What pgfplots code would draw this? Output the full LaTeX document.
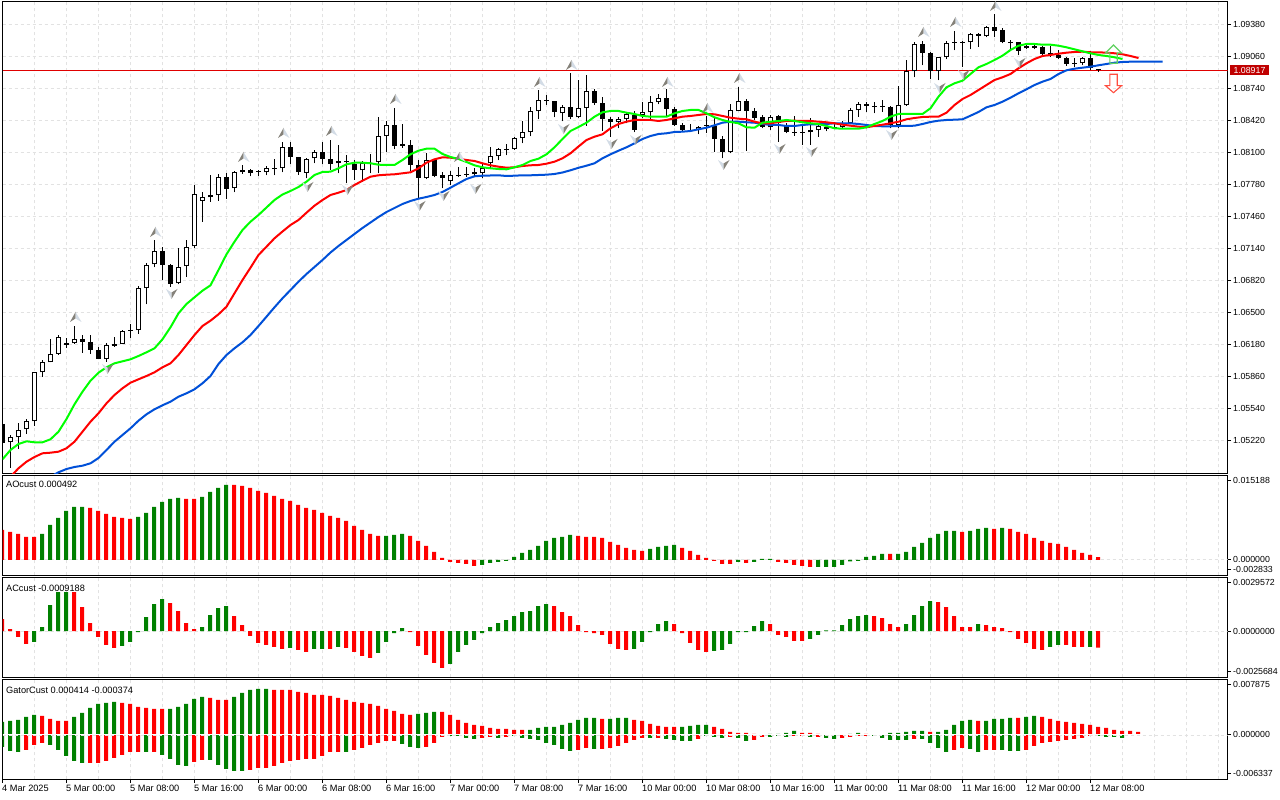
\documentclass[border=0pt]{standalone}
\usepackage{fontspec}
\setmainfont{Liberation Sans}
\usepackage{pgfplots}
\usepackage{pgfplotstable}
\pgfplotsset{compat=1.18}

\definecolor{gridc}{HTML}{E2E2E2}
\definecolor{hist}{HTML}{008000}
\definecolor{bluel}{HTML}{0050D8}
\definecolor{levelr}{HTML}{E00000}
\definecolor{tagr}{HTML}{C00000}
\definecolor{fdark}{HTML}{85827A}
\definecolor{flight}{HTML}{D3DCE6}

% fractal chevrons and the two signal arrows
\pgfdeclareplotmark{fup}{%
  \pgfsetfillcolor{fdark}%
  \pgfpathmoveto{\pgfpoint{1pt}{5pt}}\pgfpathlineto{\pgfpoint{-4.5pt}{-5pt}}\pgfpathlineto{\pgfpoint{1pt}{-1.5pt}}\pgfpathclose\pgfusepath{fill}%
  \pgfsetfillcolor{flight}%
  \pgfpathmoveto{\pgfpoint{1pt}{5pt}}\pgfpathlineto{\pgfpoint{7pt}{-5pt}}\pgfpathlineto{\pgfpoint{1pt}{-1.5pt}}\pgfpathclose\pgfusepath{fill}}
\pgfdeclareplotmark{fdn}{%
  \pgfsetfillcolor{flight}%
  \pgfpathmoveto{\pgfpoint{1pt}{-5pt}}\pgfpathlineto{\pgfpoint{-4.5pt}{5pt}}\pgfpathlineto{\pgfpoint{1pt}{1.5pt}}\pgfpathclose\pgfusepath{fill}%
  \pgfsetfillcolor{fdark}%
  \pgfpathmoveto{\pgfpoint{1pt}{-5pt}}\pgfpathlineto{\pgfpoint{7pt}{5pt}}\pgfpathlineto{\pgfpoint{1pt}{1.5pt}}\pgfpathclose\pgfusepath{fill}}
\pgfdeclareplotmark{bigup}{%
  \pgfsetlinewidth{1.1pt}\pgfsetstrokecolor{green!55!gray!80}%
  \pgfpathmoveto{\pgfpoint{-1pt}{9pt}}\pgfpathlineto{\pgfpoint{7pt}{1pt}}\pgfpathlineto{\pgfpoint{2.7pt}{1pt}}%
  \pgfpathlineto{\pgfpoint{2.7pt}{-9.3pt}}\pgfpathlineto{\pgfpoint{-4.7pt}{-9.3pt}}\pgfpathlineto{\pgfpoint{-4.7pt}{1pt}}%
  \pgfpathlineto{\pgfpoint{-9pt}{1pt}}\pgfpathclose\pgfusepath{stroke}}
\pgfdeclareplotmark{bigdn}{%
  \pgfsetlinewidth{1.1pt}\pgfsetstrokecolor{red!85!orange!75}%
  \pgfpathmoveto{\pgfpoint{-1pt}{-9.2pt}}\pgfpathlineto{\pgfpoint{7pt}{-2.2pt}}\pgfpathlineto{\pgfpoint{2.7pt}{-2.2pt}}%
  \pgfpathlineto{\pgfpoint{2.7pt}{9.2pt}}\pgfpathlineto{\pgfpoint{-4.7pt}{9.2pt}}\pgfpathlineto{\pgfpoint{-4.7pt}{-2.2pt}}%
  \pgfpathlineto{\pgfpoint{-9pt}{-2.2pt}}\pgfpathclose\pgfusepath{stroke}}

% candles: bar, open, high, low, close
\pgfplotstableread{
i o h l c
0 1.05380 1.05380 1.05193 1.05193
1 1.05197 1.05270 1.04943 1.05247
2 1.05247 1.05390 1.05130 1.05317
3 1.05327 1.05430 1.05280 1.05407
4 1.05407 1.05900 1.05360 1.05897
5 1.05897 1.06020 1.05853 1.05997
6 1.05997 1.06230 1.05997 1.06077
7 1.06083 1.06270 1.06070 1.06247
8 1.06187 1.06240 1.06140 1.06167
9 1.06187 1.06360 1.06180 1.06227
10 1.06227 1.06270 1.06093 1.06197
11 1.06197 1.06270 1.06080 1.06117
12 1.06117 1.06150 1.06027 1.06027
13 1.06027 1.06190 1.06003 1.06167
14 1.06177 1.06250 1.06150 1.06160
15 1.06177 1.06320 1.06177 1.06307
16 1.06320 1.06380 1.06240 1.06310
17 1.06317 1.06763 1.06280 1.06737
18 1.06737 1.06990 1.06577 1.06967
19 1.06977 1.07220 1.06947 1.07107
20 1.07107 1.07150 1.06823 1.06967
21 1.06967 1.06980 1.06753 1.06777
22 1.06787 1.07140 1.06777 1.06947
23 1.06957 1.07220 1.06853 1.07147
24 1.07157 1.07770 1.07137 1.07680
25 1.07613 1.07700 1.07403 1.07647
26 1.07647 1.07870 1.07603 1.07667
27 1.07667 1.07880 1.07613 1.07847
28 1.07847 1.07890 1.07633 1.07727
29 1.07737 1.07910 1.07697 1.07900
30 1.07897 1.07970 1.07880 1.07917
31 1.07917 1.07927 1.07857 1.07887
32 1.07905 1.07920 1.07860 1.07895
33 1.07897 1.07960 1.07867 1.07937
34 1.07940 1.08030 1.07867 1.07930
35 1.07937 1.08197 1.07897 1.08147
36 1.08147 1.08197 1.07977 1.08047
37 1.08047 1.08050 1.07870 1.07897
38 1.07890 1.08043 1.07837 1.08027
39 1.08037 1.08117 1.07987 1.08097
40 1.08097 1.08200 1.07977 1.08027
41 1.08027 1.08220 1.07917 1.07977
42 1.07987 1.08170 1.07887 1.08007
43 1.08007 1.08070 1.07787 1.07997
44 1.07977 1.08020 1.07820 1.07917
45 1.07917 1.08010 1.07803 1.07987
46 1.07992 1.08080 1.07887 1.07982
47 1.07997 1.08447 1.07887 1.08257
48 1.08257 1.08407 1.08100 1.08367
49 1.08367 1.08540 1.08127 1.08160
50 1.08177 1.08380 1.08143 1.08160
51 1.08167 1.08220 1.07907 1.07967
52 1.07967 1.08020 1.07637 1.07837
53 1.07837 1.08090 1.07827 1.08017
54 1.08017 1.08027 1.07847 1.07857
55 1.07867 1.07897 1.07737 1.07837
56 1.07807 1.07907 1.07767 1.07867
57 1.07872 1.07953 1.07847 1.07862
58 1.07877 1.07947 1.07853 1.07867
59 1.07877 1.07937 1.07847 1.07897
60 1.07887 1.07987 1.07837 1.07937
61 1.07987 1.08147 1.07937 1.08057
62 1.08057 1.08137 1.08017 1.08127
63 1.08132 1.08177 1.08067 1.08122
64 1.08127 1.08247 1.08120 1.08237
65 1.08237 1.08407 1.08187 1.08297
66 1.08297 1.08547 1.08257 1.08507
67 1.08507 1.08717 1.08427 1.08617
68 1.08617 1.08670 1.08570 1.08607
69 1.08607 1.08610 1.08447 1.08497
70 1.08487 1.08567 1.08407 1.08547
71 1.08547 1.08887 1.08427 1.08447
72 1.08447 1.08817 1.08440 1.08537
73 1.08537 1.08867 1.08360 1.08707
74 1.08707 1.08727 1.08570 1.08587
75 1.08587 1.08647 1.08313 1.08427
76 1.08427 1.08447 1.08253 1.08397
77 1.08397 1.08447 1.08337 1.08427
78 1.08427 1.08497 1.08387 1.08477
79 1.08467 1.08507 1.08297 1.08317
80 1.08467 1.08597 1.08437 1.08497
81 1.08497 1.08657 1.08427 1.08597
82 1.08597 1.08677 1.08577 1.08637
83 1.08637 1.08727 1.08447 1.08527
84 1.08527 1.08547 1.08357 1.08367
85 1.08367 1.08387 1.08297 1.08317
86 1.08320 1.08377 1.08303 1.08310
87 1.08317 1.08357 1.08277 1.08347
88 1.08367 1.08460 1.08290 1.08357
89 1.08357 1.08437 1.08103 1.08227
90 1.08227 1.08257 1.08037 1.08097
91 1.08097 1.08580 1.08087 1.08517
92 1.08507 1.08747 1.08507 1.08607
93 1.08607 1.08627 1.08113 1.08507
94 1.08507 1.08537 1.08420 1.08437
95 1.08447 1.08467 1.08337 1.08347
96 1.08347 1.08467 1.08320 1.08447
97 1.08457 1.08467 1.08203 1.08387
98 1.08357 1.08387 1.08287 1.08297
99 1.08302 1.08460 1.08260 1.08292
100 1.08302 1.08370 1.08170 1.08292
101 1.08297 1.08437 1.08170 1.08317
102 1.08317 1.08370 1.08253 1.08357
103 1.08327 1.08387 1.08307 1.08347
104 1.08352 1.08403 1.08327 1.08342
105 1.08347 1.08413 1.08337 1.08387
106 1.08387 1.08537 1.08377 1.08517
107 1.08517 1.08597 1.08453 1.08577
108 1.08577 1.08603 1.08503 1.08560
109 1.08560 1.08603 1.08487 1.08547
110 1.08555 1.08620 1.08503 1.08545
111 1.08550 1.08560 1.08337 1.08370
112 1.08370 1.08760 1.08337 1.08567
113 1.08567 1.09020 1.08560 1.08907
114 1.08907 1.09197 1.08847 1.09177
115 1.09177 1.09207 1.08967 1.09087
116 1.09087 1.09097 1.08827 1.08907
117 1.08907 1.09053 1.08817 1.09047
118 1.09047 1.09207 1.09027 1.09187
119 1.09198 1.09307 1.09117 1.09188
120 1.09202 1.09207 1.08953 1.09192
121 1.09197 1.09287 1.09127 1.09277
122 1.09277 1.09287 1.09153 1.09257
123 1.09257 1.09357 1.09247 1.09347
124 1.09347 1.09477 1.09247 1.09307
125 1.09317 1.09337 1.09187 1.09197
126 1.09202 1.09217 1.09120 1.09192
127 1.09197 1.09197 1.09067 1.09107
128 1.09137 1.09177 1.09127 1.09157
129 1.09157 1.09177 1.09127 1.09137
130 1.09147 1.09157 1.09053 1.09077
131 1.09087 1.09157 1.09053 1.09067
132 1.09067 1.09117 1.09027 1.09037
133 1.09037 1.09047 1.08960 1.08977
134 1.08987 1.09037 1.08953 1.08977
135 1.08987 1.09047 1.08967 1.09037
136 1.09037 1.09107 1.08917 1.08937
137 1.08927 1.08927 1.08903 1.08917
}\candles

% moving averages: green, red, blue
\pgfplotstableread{
i g r b
0 1.05027 1.04820 nan
1 1.05120 1.04853 nan
2 1.05180 1.04937 nan
3 1.05207 1.05003 nan
4 1.05197 1.05050 nan
5 1.05197 1.05087 nan
6 1.05227 1.05093 1.04853
7 1.05303 1.05103 1.04897
8 1.05430 1.05137 1.04930
9 1.05577 1.05203 1.04950
10 1.05703 1.05303 1.04963
11 1.05813 1.05403 1.04987
12 1.05893 1.05487 1.05040
13 1.05947 1.05587 1.05120
14 1.05987 1.05670 1.05203
15 1.06007 1.05737 1.05270
16 1.06027 1.05793 1.05337
17 1.06060 1.05827 1.05413
18 1.06097 1.05860 1.05477
19 1.06137 1.05897 1.05527
20 1.06227 1.05947 1.05567
21 1.06347 1.05987 1.05603
22 1.06487 1.06070 1.05653
23 1.06580 1.06170 1.05687
24 1.06647 1.06270 1.05727
25 1.06713 1.06360 1.05787
26 1.06767 1.06413 1.05860
27 1.06920 1.06477 1.05980
28 1.07077 1.06553 1.06070
29 1.07203 1.06687 1.06137
30 1.07320 1.06820 1.06197
31 1.07403 1.06943 1.06270
32 1.07470 1.07070 1.06360
33 1.07545 1.07153 1.06453
34 1.07620 1.07237 1.06547
35 1.07675 1.07305 1.06637
36 1.07710 1.07370 1.06720
37 1.07750 1.07420 1.06803
38 1.07803 1.07493 1.06880
39 1.07870 1.07563 1.06950
40 1.07900 1.07620 1.07020
41 1.07903 1.07670 1.07095
42 1.07937 1.07693 1.07160
43 1.07977 1.07720 1.07220
44 1.07993 1.07770 1.07280
45 1.07993 1.07813 1.07340
46 1.07987 1.07853 1.07395
47 1.07973 1.07867 1.07450
48 1.07970 1.07873 1.07500
49 1.07970 1.07877 1.07540
50 1.08020 1.07887 1.07580
51 1.08077 1.07897 1.07610
52 1.08113 1.07937 1.07633
53 1.08133 1.07993 1.07650
54 1.08133 1.08027 1.07670
55 1.08080 1.08047 1.07700
56 1.08050 1.08043 1.07743
57 1.08030 1.08033 1.07787
58 1.08000 1.08020 1.07830
59 1.07967 1.08010 1.07857
60 1.07947 1.07987 1.07863
61 1.07937 1.07967 1.07865
62 1.07930 1.07953 1.07867
63 1.07927 1.07943 1.07860
64 1.07947 1.07947 1.07863
65 1.07970 1.07960 1.07867
66 1.08010 1.07967 1.07867
67 1.08033 1.07970 1.07870
68 1.08077 1.07983 1.07873
69 1.08147 1.08003 1.07880
70 1.08230 1.08037 1.07895
71 1.08310 1.08087 1.07917
72 1.08350 1.08155 1.07942
73 1.08393 1.08220 1.07963
74 1.08453 1.08253 1.07987
75 1.08497 1.08277 1.08037
76 1.08510 1.08337 1.08077
77 1.08510 1.08380 1.08113
78 1.08493 1.08403 1.08147
79 1.08480 1.08420 1.08187
80 1.08460 1.08420 1.08230
81 1.08453 1.08420 1.08260
82 1.08453 1.08410 1.08280
83 1.08453 1.08420 1.08287
84 1.08487 1.08437 1.08300
85 1.08510 1.08453 1.08303
86 1.08520 1.08460 1.08310
87 1.08520 1.08470 1.08327
88 1.08487 1.08480 1.08343
89 1.08447 1.08477 1.08367
90 1.08420 1.08460 1.08393
91 1.08400 1.08443 1.08403
92 1.08387 1.08433 1.08403
93 1.08347 1.08427 1.08397
94 1.08343 1.08403 1.08393
95 1.08393 1.08387 1.08380
96 1.08403 1.08387 1.08370
97 1.08410 1.08400 1.08370
98 1.08420 1.08410 1.08360
99 1.08410 1.08413 1.08360
100 1.08397 1.08410 1.08370
101 1.08387 1.08410 1.08377
102 1.08380 1.08403 1.08377
103 1.08360 1.08397 1.08380
104 1.08337 1.08387 1.08387
105 1.08333 1.08373 1.08387
106 1.08333 1.08363 1.08387
107 1.08333 1.08353 1.08380
108 1.08347 1.08347 1.08370
109 1.08380 1.08360 1.08360
110 1.08410 1.08373 1.08357
111 1.08453 1.08387 1.08357
112 1.08480 1.08403 1.08360
113 1.08480 1.08427 1.08360
114 1.08480 1.08440 1.08363
115 1.08480 1.08450 1.08380
116 1.08537 1.08453 1.08400
117 1.08653 1.08453 1.08413
118 1.08747 1.08493 1.08420
119 1.08787 1.08570 1.08423
120 1.08813 1.08630 1.08427
121 1.08880 1.08670 1.08463
122 1.08947 1.08720 1.08500
123 1.08980 1.08770 1.08547
124 1.09020 1.08820 1.08570
125 1.09063 1.08847 1.08603
126 1.09120 1.08880 1.08643
127 1.09163 1.08937 1.08687
128 1.09180 1.08987 1.08727
129 1.09180 1.09030 1.08770
130 1.09173 1.09060 1.08803
131 1.09173 1.09070 1.08830
132 1.09163 1.09083 1.08880
133 1.09147 1.09093 1.08917
134 1.09127 1.09100 1.08933
135 1.09107 1.09103 1.08943
136 1.09087 1.09097 1.08953
137 1.09070 1.09097 1.08967
138 1.09060 1.09093 1.08980
139 1.09047 1.09087 1.08993
140 1.09030 1.09077 1.09000
141 nan 1.09060 1.09003
142 nan 1.09040 1.09003
143 nan nan 1.09003
144 nan nan 1.09003
145 nan nan 1.09003
}\averages

\pgfplotstableread{
i y
9 1.06450
19 1.07300
30 1.08050
35 1.08290
41 1.08310
49 1.08630
57 1.08050
67 1.08800
71 1.08970
83 1.08800
88 1.08540
92 1.08840
115 1.09300
119 1.09400
124 1.09560
}\fractup

\pgfplotstableread{
i y
1 1.04870
13 1.05930
21 1.06680
38 1.07750
43 1.07720
52 1.07560
55 1.07660
59 1.07730
70 1.08330
76 1.08180
79 1.08220
90 1.07970
97 1.08130
101 1.08100
111 1.08270
117 1.08740
120 1.08870
127 1.08990
}\fractdown

% AO histogram, k=1 green, k=0 red
\pgfplotstableread{
i v k
0 0.00540 0
1 0.00504 0
2 0.00468 0
3 0.00414 0
4 0.00414 0
5 0.00468 1
6 0.00630 1
7 0.00756 1
8 0.00882 1
9 0.00954 1
10 0.00954 1
11 0.00936 0
12 0.00882 0
13 0.00828 0
14 0.00774 0
15 0.00756 0
16 0.00738 0
17 0.00774 1
18 0.00846 1
19 0.00954 1
20 0.01044 1
21 0.01098 1
22 0.01116 1
23 0.01098 0
24 0.01098 0
25 0.01134 1
26 0.01224 1
27 0.01296 1
28 0.01350 1
29 0.01350 0
30 0.01332 0
31 0.01296 0
32 0.01242 0
33 0.01206 0
34 0.01152 0
35 0.01098 0
36 0.01062 0
37 0.00990 0
38 0.00936 0
39 0.00900 0
40 0.00846 0
41 0.00792 0
42 0.00756 0
43 0.00702 0
44 0.00612 0
45 0.00540 0
46 0.00468 0
47 0.00432 0
48 0.00432 1
49 0.00450 1
50 0.00468 1
51 0.00432 0
52 0.00342 0
53 0.00252 0
54 0.00144 0
55 0.00036 0
56 -0.00036 0
57 -0.00054 0
58 -0.00072 0
59 -0.00108 0
60 -0.00090 1
61 -0.00054 1
62 -0.00036 1
63 -0.00018 1
64 0.00054 1
65 0.00126 1
66 0.00180 1
67 0.00252 1
68 0.00342 1
69 0.00396 1
70 0.00414 1
71 0.00450 1
72 0.00432 0
73 0.00414 0
74 0.00414 0
75 0.00396 0
76 0.00324 0
77 0.00270 0
78 0.00216 0
79 0.00180 0
80 0.00162 0
81 0.00198 1
82 0.00234 1
83 0.00252 1
84 0.00270 1
85 0.00216 0
86 0.00162 0
87 0.00090 0
88 0.00036 0
89 -0.00018 0
90 -0.00072 0
91 -0.00072 0
92 -0.00036 1
93 -0.00054 0
94 -0.00036 1
95 0.00018 1
96 0.00018 1
97 -0.00036 0
98 -0.00054 0
99 -0.00090 0
100 -0.00108 0
101 -0.00126 0
102 -0.00126 1
103 -0.00126 1
104 -0.00126 1
105 -0.00090 1
106 -0.00027 1
107 -0.00018 1
108 0.00054 1
109 0.00072 1
110 0.00108 1
111 0.00108 0
112 0.00108 1
113 0.00144 1
114 0.00234 1
115 0.00306 1
116 0.00396 1
117 0.00468 1
118 0.00522 1
119 0.00522 1
120 0.00504 0
121 0.00522 1
122 0.00558 1
123 0.00576 1
124 0.00558 0
125 0.00576 1
126 0.00558 0
127 0.00504 0
128 0.00468 0
129 0.00396 0
130 0.00342 0
131 0.00306 0
132 0.00288 0
133 0.00234 0
134 0.00180 0
135 0.00126 0
136 0.00090 0
137 0.000492 0
}\aotab

% AC histogram
\pgfplotstableread{
i v k
0 0.00066 0
1 0.00011 0
2 -0.00033 0
3 -0.000715 0
4 -0.000605 1
5 0.00022 1
6 0.00143 1
7 0.002145 1
8 0.002145 1
9 0.002145 0
10 0.00132 0
11 0.00044 0
12 -0.00033 0
13 -0.00077 0
14 -0.000935 0
15 -0.000825 1
16 -0.000605 1
17 -0.000055 1
18 0.00077 1
19 0.001485 1
20 0.00176 1
21 0.00154 0
22 0.0011 0
23 0.00044 0
24 0.00011 0
25 0.00022 1
26 0.00088 1
27 0.001265 1
28 0.001375 1
29 0.000825 0
30 0.00033 0
31 -0.000275 0
32 -0.00066 0
33 -0.00077 0
34 -0.00088 0
35 -0.00099 0
36 -0.000935 1
37 -0.001045 0
38 -0.001155 0
39 -0.00099 1
40 -0.00099 1
41 -0.00099 0
42 -0.00088 1
43 -0.000935 0
44 -0.001155 0
45 -0.001375 0
46 -0.001485 0
47 -0.00121 1
48 -0.000605 1
49 -0.00011 1
50 0.000165 1
51 -0.000055 0
52 -0.000825 0
53 -0.00132 0
54 -0.00176 0
55 -0.002035 0
56 -0.001815 1
57 -0.001155 1
58 -0.00077 1
59 -0.000495 1
60 -0.00011 1
61 0.00022 1
62 0.00044 1
63 0.000605 1
64 0.000825 1
65 0.001045 1
66 0.0011 1
67 0.001375 1
68 0.001485 1
69 0.001375 0
70 0.001045 0
71 0.000825 0
72 0.00033 0
73 -0.000055 0
74 -0.00011 0
75 -0.00022 0
76 -0.000715 0
77 -0.00099 0
78 -0.001045 0
79 -0.00099 1
80 -0.000605 1
81 -0.000055 1
82 0.000385 1
83 0.00055 1
84 0.000385 0
85 -0.00011 0
86 -0.00066 0
87 -0.001045 0
88 -0.001155 0
89 -0.0011 1
90 -0.001045 1
91 -0.000715 1
92 -0.000055 1
93 -0.000055 1
94 0.000275 1
95 0.00055 1
96 0.000385 0
97 -0.00022 0
98 -0.00033 0
99 -0.00055 0
100 -0.00055 0
101 -0.00044 1
102 -0.00022 1
103 0.00003 1
104 0.00004 1
105 0.00033 1
106 0.00066 1
107 0.000825 1
108 0.00088 1
109 0.000825 0
110 0.000715 0
111 0.000385 0
112 0.00022 0
113 0.000385 1
114 0.00088 1
115 0.001375 1
116 0.00165 1
117 0.001595 0
118 0.00132 0
119 0.000825 0
120 0.00022 0
121 0.00022 0
122 0.000385 1
123 0.00033 0
124 0.00022 0
125 0.000165 0
126 -0.000055 0
127 -0.00044 0
128 -0.00066 0
129 -0.00099 0
130 -0.001045 0
131 -0.00088 1
132 -0.00077 1
133 -0.00077 0
134 -0.00088 0
135 -0.00088 0
136 -0.00088 1
137 -0.0009188 0
}\actab

% Gator: upper and lower bars with their colours
\pgfplotstableread{
i up ku lo kl
0 0.001846 1 -0.001704 1
1 0.001988 1 -0.002272 1
2 0.00213 1 -0.002414 1
3 0.002556 1 -0.00213 0
4 0.00284 1 -0.00142 0
5 0.002698 0 -0.001136 0
6 0.002272 0 -0.00142 1
7 0.001988 0 -0.00213 1
8 0.001988 0 -0.002982 1
9 0.002556 1 -0.003692 1
10 0.003124 1 -0.003976 1
11 0.003834 1 -0.003976 0
12 0.004402 1 -0.003976 0
13 0.004544 1 -0.003692 0
14 0.004686 1 -0.003266 0
15 0.004544 0 -0.00284 0
16 0.004402 0 -0.002414 0
17 0.003976 0 -0.002414 0
18 0.003834 0 -0.002414 1
19 0.003692 0 -0.002414 0
20 0.003692 0 -0.00284 1
21 0.003692 1 -0.003408 1
22 0.003976 1 -0.00426 1
23 0.004402 1 -0.004402 1
24 0.005112 1 -0.003834 0
25 0.005396 1 -0.00355 0
26 0.005254 0 -0.00355 1
27 0.00497 0 -0.00426 1
28 0.00497 0 -0.004828 1
29 0.005396 1 -0.005112 1
30 0.005964 1 -0.005112 1
31 0.00639 1 -0.00497 0
32 0.006532 1 -0.004686 0
33 0.006532 1 -0.004686 0
34 0.00639 0 -0.004402 0
35 0.00639 0 -0.003976 0
36 0.00639 0 -0.003692 0
37 0.006106 0 -0.00355 0
38 0.005964 0 -0.003408 0
39 0.00568 0 -0.003408 0
40 0.00568 0 -0.002982 0
41 0.005538 0 -0.002414 0
42 0.005254 0 -0.002414 0
43 0.00497 0 -0.002414 1
44 0.004686 0 -0.00213 0
45 0.004544 0 -0.001846 0
46 0.004402 0 -0.00142 0
47 0.004118 0 -0.001136 0
48 0.003692 0 -0.000852 0
49 0.003408 0 -0.000852 0
50 0.002982 0 -0.001278 1
51 0.00284 0 -0.001704 1
52 0.002982 1 -0.001846 1
53 0.003124 1 -0.001704 0
54 0.003266 1 -0.001136 0
55 0.003266 0 -0.000284 0
56 0.00284 0 -0.000142 1
57 0.00213 0 -0.000142 1
58 0.001704 0 -0.000426 1
59 0.00142 0 -0.000568 1
60 0.001278 0 -0.000426 0
61 0.000994 0 -0.000284 0
62 0.000852 0 -0.000426 1
63 0.000852 0 -0.000284 0
64 0.00071 0 -0.000142 1
65 0.00071 0 -0.000426 1
66 0.00071 1 -0.000568 1
67 0.000994 1 -0.00071 1
68 0.001136 1 -0.001136 1
69 0.001136 1 -0.00142 1
70 0.00142 1 -0.001988 1
71 0.001704 1 -0.002272 1
72 0.00213 1 -0.00213 0
73 0.002414 1 -0.001846 0
74 0.002414 1 -0.001988 1
75 0.002272 0 -0.001988 0
76 0.002272 1 -0.001846 0
77 0.002414 1 -0.001562 0
78 0.002414 1 -0.001136 0
79 0.00213 0 -0.00071 0
80 0.001988 0 -0.000426 0
81 0.001562 0 -0.000426 1
82 0.001278 0 -0.000426 0
83 0.001136 0 -0.000568 1
84 0.001136 0 -0.00071 1
85 0.001136 1 -0.000852 1
86 0.001278 1 -0.000852 1
87 0.00142 1 -0.000568 0
88 0.00142 1 -0.000142 1
89 0.001136 0 -0.000284 1
90 0.000852 0 -0.000426 1
91 0.000426 0 -0.000284 0
92 0.000284 0 -0.000426 1
93 0.000284 0 -0.000852 1
94 0.000142 0 -0.00071 0
95 0.00007 0 -0.000284 0
96 0.000142 1 -0.000284 1
97 0.000142 1 -0.000142 1
98 0.000284 1 -0.000284 1
99 0.000568 1 -0.000142 0
100 0.000284 0 -0.000142 0
101 0.000284 0 -0.000284 1
102 0.000142 0 -0.000284 0
103 0.00007 1 -0.000426 1
104 0.00007 1 -0.000568 1
105 0.00007 0 -0.000426 0
106 0.000142 1 -0.000284 0
107 0.000284 1 -0.000142 0
108 0.000142 0 -0.000142 0
109 0.00007 1 -0.000142 1
110 0.00007 1 -0.000426 1
111 0.000284 1 -0.00071 1
112 0.000284 1 -0.00071 1
113 0.000426 1 -0.00071 1
114 0.000568 1 -0.000568 0
115 0.000568 1 -0.000568 1
116 0.000426 0 -0.001136 1
117 0.000426 1 -0.001846 1
118 0.00071 1 -0.002414 1
119 0.00142 1 -0.00213 0
120 0.001988 1 -0.001846 0
121 0.00213 1 -0.001988 1
122 0.001988 0 -0.002414 1
123 0.001988 1 -0.00213 0
124 0.002272 1 -0.00213 0
125 0.002272 1 -0.00213 1
126 0.002414 1 -0.002272 1
127 0.002414 0 -0.002272 1
128 0.002556 1 -0.00213 0
129 0.002698 1 -0.001562 0
130 0.002556 0 -0.001136 0
131 0.002272 0 -0.000994 0
132 0.001988 0 -0.000852 0
133 0.001846 0 -0.00071 0
134 0.001704 0 -0.000568 0
135 0.001562 0 -0.000426 0
136 0.00142 0 -0.000142 0
137 0.001136 0 -0.000142 1
138 0.000994 0 -0.000284 1
139 0.00071 0 -0.000284 1
140 0.000568 0 -0.000426 1
141 0.000568 0 nan 0
142 0.000414 0 nan 0
}\gator

\pgfplotsset{
  panel/.style={
    scale only axis, width=1225pt,
    xmin=0, xmax=153.125,
    scaled y ticks=false, scaled x ticks=false,
    axis line style={line width=1pt},
    tick align=outside, major tick length=3.5pt, minor tick length=0pt,
    tick style={black, line width=0.9pt},
    xtick={0,8,...,136},
    minor xtick={4,12,...,132,140,144,148,152},
    xmajorgrids, xminorgrids,
    grid style={gridc, line width=0.8pt, dash pattern=on 3pt off 3pt},
    minor grid style={gridc, line width=0.8pt, dash pattern=on 3pt off 3pt},
    xtick pos=bottom, ytick pos=right, yticklabel pos=right,
    xticklabels={}, xtick style={draw=none},
    yticklabel style={font=\fontsize{8.8}{10}\selectfont, anchor=west, inner sep=0pt, xshift=2pt},
  },
  bar/.style={ybar, bar width=4pt, bar shift=-0.5pt, draw=none, fill=#1},
}
\newcommand{\ind}[2]{\node[anchor=west, inner sep=0pt, font=\fontsize{9.2}{10}\selectfont] at (6pt,#1pt) {#2};}

\begin{document}
\begin{tikzpicture}[x=1pt,y=1pt]
\path[use as bounding box, fill=white] (0,0) rectangle (1280,800);

% price panel
\begin{axis}[panel, at={(2.5pt,326.5pt)}, anchor=south west, height=472pt,
  ymin=1.04885, ymax=1.09605, ymajorgrids,
  ytick={1.0522,1.0554,1.0586,1.0618,1.065,1.0682,1.0714,1.0746,1.0778,1.081,1.0842,1.0874,1.0906,1.0938},
  yticklabels={1.05220,1.05540,1.05860,1.06180,1.06500,1.06820,1.07140,1.07460,1.07780,1.08100,1.08420,1.08740,1.09060,1.09380},
]
\addplot[levelr, line width=1pt] coordinates {(0,1.08917) (153.125,1.08917)};
% wicks and bodies
\addplot[black, line width=1pt, quiver={u=0,v=\thisrow{h}-\thisrow{l}}] table[x=i,y=l] {\candles};
\addplot[black, line width=5pt, quiver={u=0,v=\thisrow{c}-\thisrow{o}}] table[x=i,y=o] {\candles};
\addplot[white, line width=3pt, quiver={u=0,v=\thisrow{c}-\thisrow{o}-0.0002},
  restrict expr to domain={\thisrow{c}-\thisrow{o}}{0.00015:1}] table[x=i,y expr=\thisrow{o}+0.0001] {\candles};
\addplot[bluel, line width=2pt] table[x=i,y=b] {\averages};
\addplot[red, line width=2pt] table[x=i,y=r] {\averages};
\addplot[green, line width=2pt] table[x=i,y=g] {\averages};
\addplot[only marks, mark=fup] table[x=i,y=y] {\fractup};
\addplot[only marks, mark=fdn] table[x=i,y=y] {\fractdown};
\addplot[only marks, mark=bigup] coordinates {(139,1.0908)};
\addplot[only marks, mark=bigdn] coordinates {(139,1.08785)};
\end{axis}

% AO
\begin{axis}[panel, at={(2.5pt,224.5pt)}, anchor=south west, height=100pt,
  ymin=-0.002833, ymax=0.015188,
  ytick={-0.00171,0,0.01438}, yticklabels={-0.002833,0.000000,0.015188},
]
\addplot[gridc, line width=0.8pt, dash pattern=on 3pt off 3pt] coordinates {(0,0) (153.125,0)};
\addplot[bar=hist, restrict expr to domain={\thisrow{k}}{1:1}] table[x=i,y=v] {\aotab};
\addplot[bar=red, restrict expr to domain={\thisrow{k}}{0:0}] table[x=i,y=v] {\aotab};
\end{axis}

% AC
\begin{axis}[panel, at={(2.5pt,122.5pt)}, anchor=south west, height=100pt,
  ymin=-0.0025684, ymax=0.0029572,
  ytick={-0.00225,0,0.00269}, yticklabels={-0.0025684,0.0000000,0.0029572},
]
\addplot[gridc, line width=0.8pt, dash pattern=on 3pt off 3pt] coordinates {(0,0) (153.125,0)};
\addplot[bar=hist, restrict expr to domain={\thisrow{k}}{1:1}] table[x=i,y=v] {\actab};
\addplot[bar=red, restrict expr to domain={\thisrow{k}}{0:0}] table[x=i,y=v] {\actab};
\end{axis}

% Gator
\begin{axis}[panel, at={(2.5pt,20.5pt)}, anchor=south west, height=100pt,
  ymin=-0.006337, ymax=0.007875,
  ytick={-0.00546,0,0.00719}, yticklabels={-0.006337,0.000000,0.007875},
  xtick style={draw=black, line width=0.9pt},
  xticklabels={4 Mar 2025,5 Mar 00:00,5 Mar 08:00,5 Mar 16:00,6 Mar 00:00,6 Mar 08:00,6 Mar 16:00,7 Mar 00:00,7 Mar 08:00,7 Mar 16:00,10 Mar 00:00,10 Mar 08:00,10 Mar 16:00,11 Mar 00:00,11 Mar 08:00,11 Mar 16:00,12 Mar 00:00,12 Mar 08:00},
  xticklabel style={font=\fontsize{9.2}{10}\selectfont, anchor=north west, inner sep=0pt, xshift=-0.5pt, yshift=-2pt},
]
\addplot[bar=hist, restrict expr to domain={\thisrow{ku}}{1:1}] table[x=i,y=up] {\gator};
\addplot[bar=red, restrict expr to domain={\thisrow{ku}}{0:0}] table[x=i,y=up] {\gator};
\addplot[bar=hist, restrict expr to domain={\thisrow{kl}}{1:1}] table[x=i,y=lo] {\gator};
\addplot[bar=red, restrict expr to domain={\thisrow{kl}}{0:0}] table[x=i,y=lo] {\gator};
\addplot[white, line width=1pt] coordinates {(0,0) (142.5,0)};
\addplot[gridc, line width=0.8pt, dash pattern=on 3pt off 3pt] coordinates {(0,0) (153.125,0)};
\end{axis}

% indicator captions and the last-price tag
\ind{315.7}{AOcust 0.000492}
\ind{211.5}{ACcust -0.0009188}
\ind{110}{GatorCust 0.000414 -0.000374}
\node[fill=tagr, text=white, inner sep=0pt, minimum width=39pt, minimum height=10pt,
  font=\fontsize{8.8}{10}\selectfont] at (1249.5,729.5) {1.08917};
\end{tikzpicture}
\end{document}
